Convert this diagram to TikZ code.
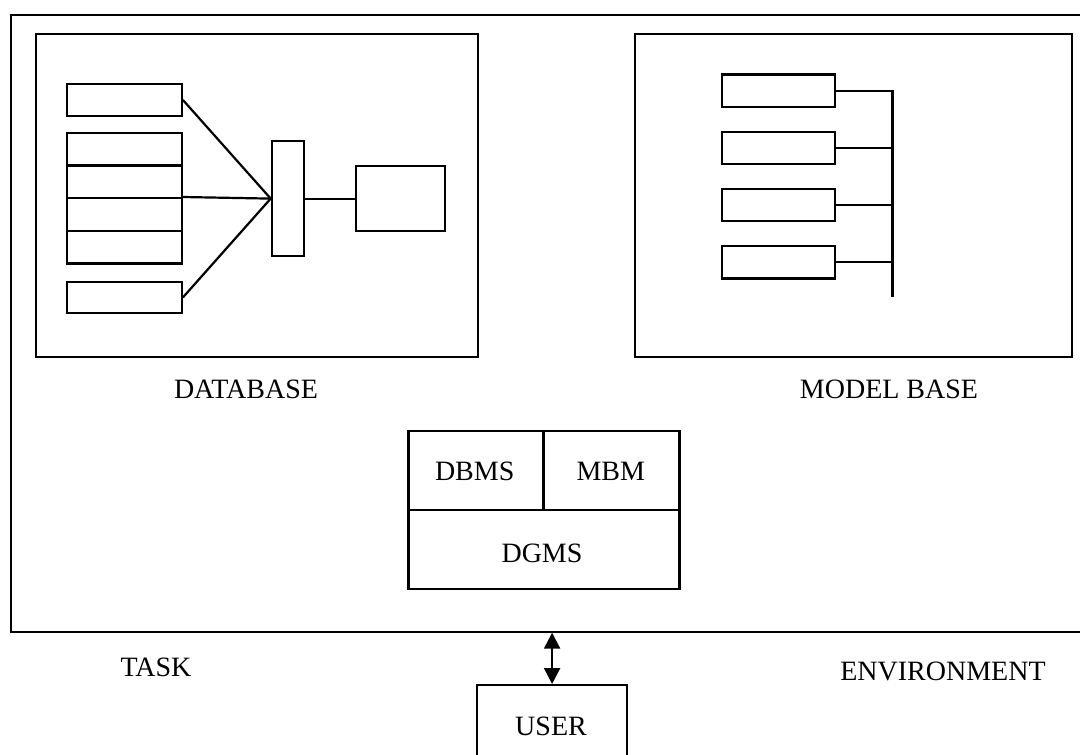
\documentclass[tikz,border=0pt]{standalone}
\usepackage{fontspec}
\setmainfont{Liberation Serif}
\usetikzlibrary{arrows.meta, positioning}

\begin{document}
\begin{tikzpicture}[
    x=1pt, y=-1pt,
    box/.style={rectangle, draw, line width=2.2pt, inner sep=0pt, anchor=north west},
    cell/.style={box, minimum width=114.7pt, minimum height=32.7pt},
    model/.style={box, minimum width=113.3pt, minimum height=32.5pt},
    wire/.style={line width=2.2pt},
    dblarrow/.style={{Triangle[length=16pt, width=16pt]}-{Triangle[length=16pt, width=16pt]}, line width=2.2pt},
    label/.style={font=\fontsize{28}{33}\selectfont, inner sep=0pt}
]
\useasboundingbox (0,0) rectangle (1080,755);
\clip (0,0) rectangle (1080,755);

% Outer frame and the two bases
\node[box, minimum width=1100pt, minimum height=617pt] (frame) at (10,13.5) {};
\node[box, minimum width=442pt, minimum height=323pt] (database) at (34.5,32.5) {};
\node[box, minimum width=437pt, minimum height=323pt] (modelbase) at (633.5,32.5) {};

% Database contents
\node[cell, minimum height=32.3pt] (rec top) at (66,82.7) {};
\foreach \i/\y in {1/131.7, 2/164.3, 3/197, 4/229.7}
    \node[cell] (rec\i) at (66,\y) {};
\node[cell, minimum height=30.7pt] (rec bot) at (66,281) {};
\node[box, minimum width=32pt, minimum height=115pt] (index) at (270.7,140) {};
\node[box, minimum width=89pt, minimum height=65pt] (table) at (355,165) {};

% Model base contents
\foreach \i in {0,...,3}
    \node[model] (model\i) at (720.7,73.3+57.2*\i) {};
\coordinate (busend) at (892.5,297);

% Management modules
\node[box, minimum width=135pt, minimum height=79pt] (dbms) at (407.3,430) {};
\node[box, minimum width=136pt, minimum height=79pt] (mbm) at (542.3,430) {};
\node[box, minimum width=271pt, minimum height=79pt] (dgms) at (407.3,509) {};
\node[box, minimum width=150pt, minimum height=84pt] (user) at (476,684) {};

% Connectors
\draw[wire] (rec top.east) -- (index.west);
\draw[wire] (rec3.north east) -- (index.west);
\draw[wire] (rec bot.east) -- (index.west);
\draw[wire] (index.east) -- (table.west);
\draw[wire] (model0.east) -| (busend);
\foreach \i in {1,...,3}
    \draw[wire] (model\i.east) -- (model\i.east -| busend);
\draw[dblarrow] (user.north) -- (user.north |- frame.south);

% Labels
\node[label] at (246,389) {DATABASE};
\node[label] at (889,389) {MODEL BASE};
\node[label] at (474.7,471.5) {DBMS};
\node[label] at (610.8,471.5) {MBM};
\node[label] at (542,553) {DGMS};
\node[label] at (551,726) {USER};
\node[label] at (156,667.5) {TASK};
\node[label] at (943,671.5) {ENVIRONMENT};

\end{tikzpicture}
\end{document}
